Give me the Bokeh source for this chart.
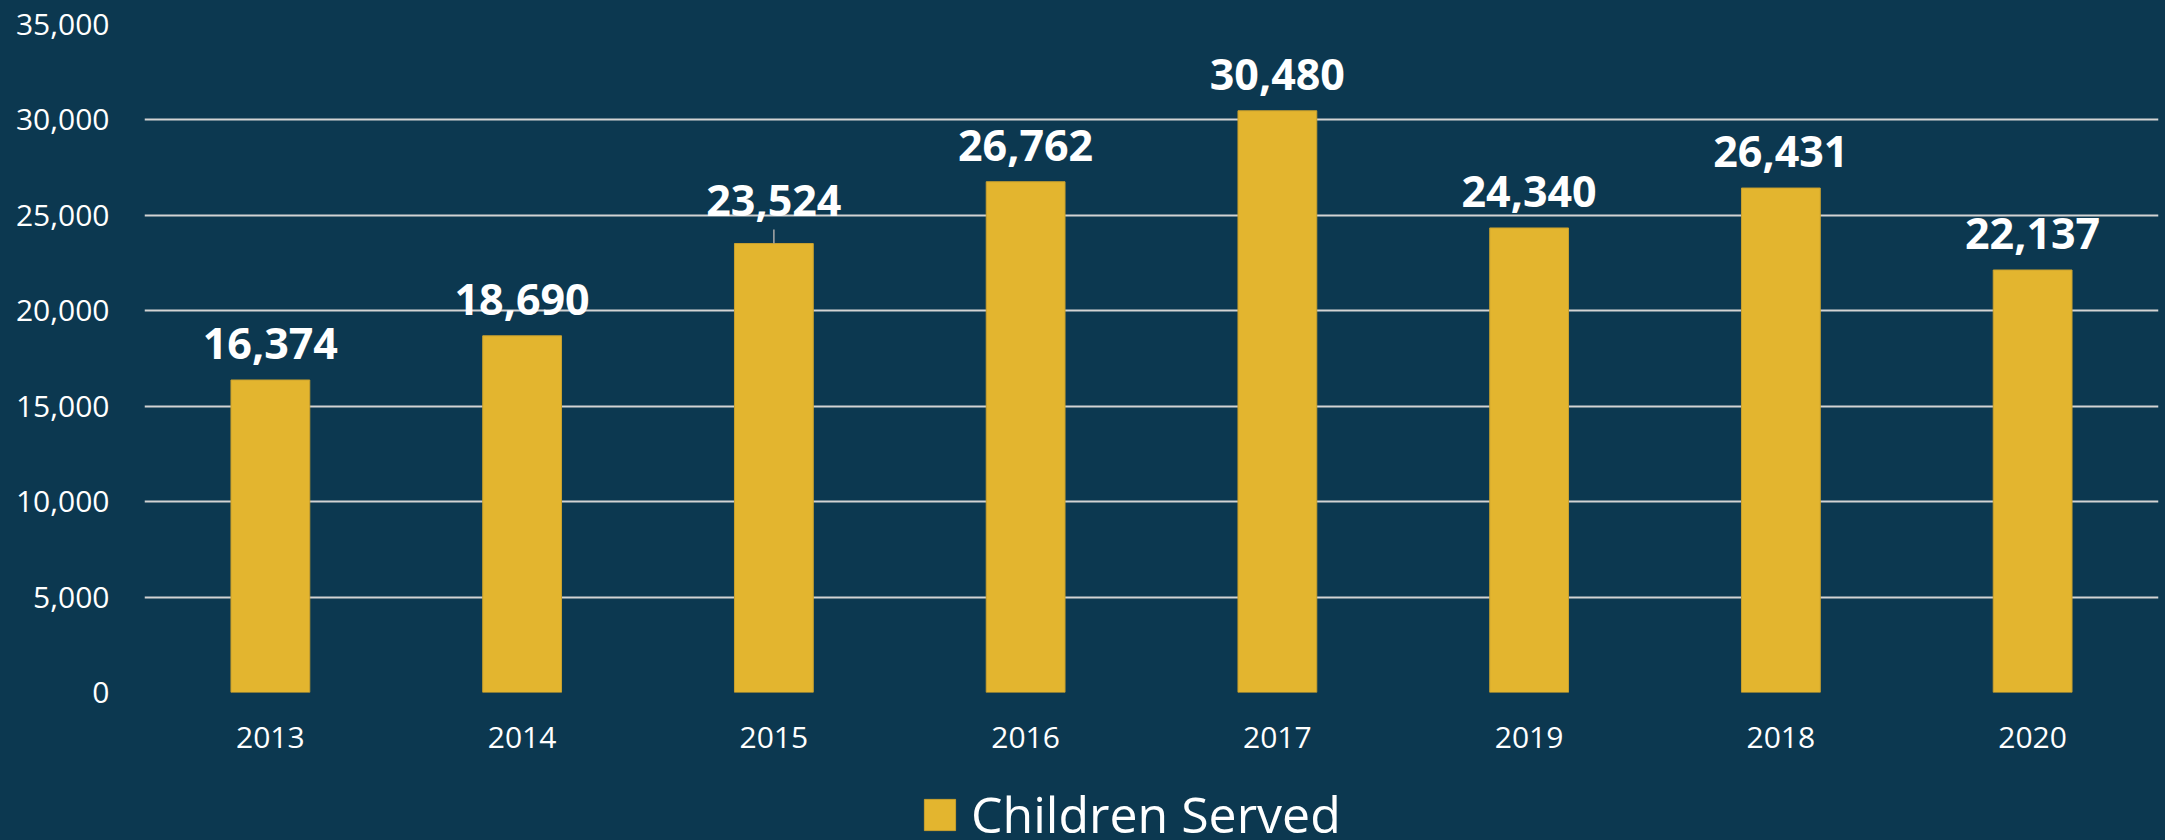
from bokeh.plotting import figure
from bokeh.layouts import column
from bokeh.models import (ColumnDataSource, FactorRange, Range1d, FixedTicker,
                          NumeralTickFormatter, LabelSet, Legend, LegendItem)
from bokeh.core.properties import value
from bokeh.embed import file_html
from bokeh.resources import INLINE

# ---- data ----
years = ["2013", "2014", "2015", "2016", "2017", "2019", "2018", "2020"]
children_served = [16374, 18690, 23524, 26762, 30480, 24340, 26431, 22137]
y_ticks = [0, 5000, 10000, 15000, 20000, 25000, 30000, 35000]
series_name = "Children Served"

BG = "#0C3850"
BAR = "#E3B52F"
BAR_EDGE = "#C9A02E"
GRID = "#D3D3D3"
FONT = "Open Sans"

labels = [f"{v:,}" for v in children_served]
offsets = [21] * len(years)
offsets[years.index("2015")] = 28

src = ColumnDataSource(dict(year=years, value=children_served,
                            label=labels, off=offsets))

p = figure(width=2165, height=768, x_range=FactorRange(*years, range_padding=0),
           y_range=Range1d(0, 35000), output_backend="svg",
           toolbar_location=None, background_fill_color=BG,
           border_fill_color=None, min_border_left=144, min_border_right=7,
           min_border_top=24, min_border_bottom=76)
p.styles = {"background-color": BG}
p.outline_line_color = None

bars = p.vbar(x="year", top="value", width=0.313, source=src,
              fill_color=BAR, line_color=BAR_EDGE, line_width=1)

# leader line for the 2015 label
i15 = years.index("2015")
lead = 14 * 35000 / 668
p.segment(x0=[years[i15]], y0=[children_served[i15]], x1=[years[i15]],
          y1=[children_served[i15] + lead], line_color="#A8A8A8", line_width=1.5)

p.add_layout(LabelSet(x="year", y="value", text="label", y_offset="off",
                      source=src, text_align="center", text_baseline="alphabetic",
                      text_color="white", text_font=value(FONT),
                      text_font_style="bold", text_font_size="43px"))

# axes
p.yaxis.ticker = FixedTicker(ticks=y_ticks)
p.yaxis.formatter = NumeralTickFormatter(format="0,0")
for ax in (p.xaxis[0], p.yaxis[0]):
    ax.axis_line_color = None
    ax.major_tick_line_color = None
    ax.minor_tick_line_color = None
    ax.major_tick_out = 0
    ax.major_tick_in = 0
    ax.major_label_text_color = "white"
    ax.major_label_text_font = FONT
    ax.major_label_text_font_size = "30px"
p.yaxis.major_label_standoff = 35
p.xaxis.major_label_standoff = 34

p.xgrid.grid_line_color = None
p.ygrid.ticker = FixedTicker(ticks=y_ticks)
p.ygrid.grid_line_color = GRID
p.ygrid.grid_line_width = 2

# ---- legend strip below the chart (same series, hidden renderer as key) ----
lg = figure(width=2165, height=72, x_range=FactorRange(*years),
            y_range=Range1d(-2, -1), x_axis_type=None, y_axis_type=None,
            output_backend="svg", toolbar_location=None,
            background_fill_color=BG, border_fill_color=None, min_border=0)
lg.styles = {"background-color": BG}
lg.outline_line_color = None
lg.xgrid.grid_line_color = None
lg.ygrid.grid_line_color = None
key = lg.vbar(x="year", top="value", width=0.313, source=src,
              fill_color=BAR, line_color=BAR_EDGE, line_width=1)
key.visible = False

legend = Legend(items=[LegendItem(label=series_name, renderers=[key])],
                location=(776, -8), orientation="horizontal",
                glyph_width=39, glyph_height=39, label_standoff=12,
                label_text_font=FONT, label_text_font_size="50px",
                label_text_color="white", padding=0, margin=0, spacing=0,
                border_line_color=None, background_fill_alpha=0)
lg.add_layout(legend, "center")

open("out.html", "w").write(file_html(column(p, lg, spacing=0), INLINE))
